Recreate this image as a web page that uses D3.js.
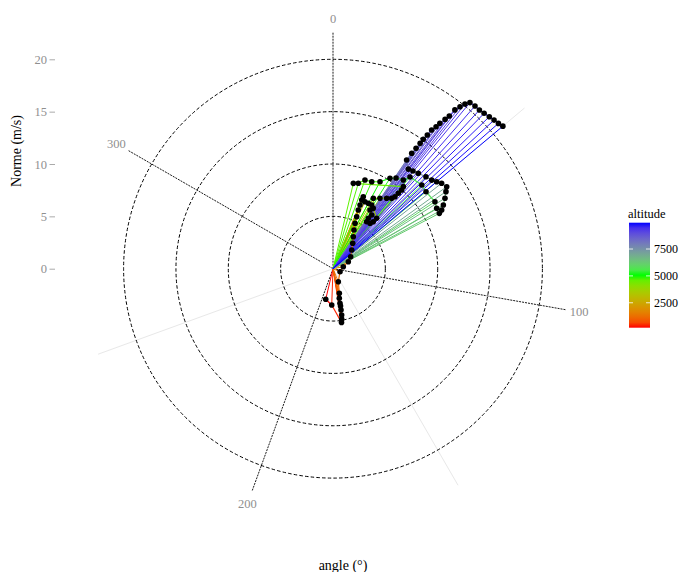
<!DOCTYPE html>
<html>
<head>
<meta charset="utf-8">
<script src="https://cdn.jsdelivr.net/npm/d3@7"></script>
<style>
  body { margin: 0; background: #fff; }
  svg { display: block; }
  text { font-family: "Liberation Serif", "DejaVu Serif", serif; }
</style>
</head>
<body>
<svg id="chart" width="683" height="572"></svg>
<script>
// ---- data ----
const angle = [193.4, 182.0,
  171.0, 170.2, 169.4, 169.0, 168.6, 168.6, 168.0, 165.6, 157.8,
  113.2, 79.0, 65.4, 55.9, 45.0, 37.8, 32.4, 28.5, 25.9, 24.5, 23.3, 23.0, 22.7, 22.8,
  25.5, 28.4, 31.3, 32.2, 35.8, 35.0, 35.6, 39.2, 40.6, 40.9, 33.7,
  29.8, 33.7, 37.3, 39.8, 40.7, 40.9, 41.1, 40.6,
  13.4, 16.5, 19.8, 24.0, 28.4, 32.2, 34.8, 38.4, 40.0,
  46.7, 50.4, 56.7, 59.8, 62.5, 61.6, 60.0, 57.8, 55.7, 54.2,
  51.8, 50.0, 48.1, 45.3, 41.8, 39.3, 37.1,
  34.1, 34.3, 34.6, 34.8, 34.9, 35.2, 35.4, 36.0, 36.3, 36.9, 37.3, 37.5, 38.1, 38.7, 39.5,
  41.1, 42.7, 44.2, 45.8, 47.3, 48.7, 50.0];
const norme = [3.0, 3.47,
  5.2, 4.88, 4.5, 4.02, 3.63, 3.37, 2.89, 2.43, 1.34,
  0.73, 1.0, 1.61, 2.04, 2.53, 3.07, 3.62, 4.2, 4.82, 5.46, 6.1, 6.61, 7.11, 7.46,
  7.09, 7.10, 7.12, 6.63, 6.32, 5.88, 5.52, 5.6, 5.91, 6.37, 6.93,
  7.75, 8.08, 8.46, 8.75, 9.07, 9.53, 9.98, 10.32,
  8.38, 8.51, 9.01, 9.09, 9.44, 10.21, 10.55, 10.81, 11.44,
  11.65, 11.53, 11.65, 11.46, 11.45, 11.8, 12.17, 12.64, 13.06, 13.39,
  13.2, 12.93, 12.67, 12.49, 12.22, 12.06, 11.93,
  12.54, 13.34, 13.97, 14.58, 15.07, 15.63, 16.26, 16.75, 17.24, 17.83, 18.33, 19.12, 19.66, 20.16, 20.56,
  20.63, 20.62, 20.7, 20.82, 20.93, 21.03, 21.18];
const altitude = [180, 300,
  450, 550, 650, 750, 850, 950, 1050, 1150, 1250,
  1350, 1450, 1550, 1650, 1750, 1850, 1950, 2050, 2150, 2250, 2350, 2450, 2550, 2650,
  2750, 2850, 2950, 3050, 3150, 3250, 3350, 3450, 3550, 3650, 3750,
  3850, 3950, 4050, 4150, 4250, 4350, 4450, 4550,
  4650, 4750, 4850, 4950, 5050, 5150, 5250, 5350, 5450,
  5600, 5750, 5900, 6050, 6200, 6350, 6500, 6650, 6800, 6950,
  7100, 7250, 7400, 7550, 7700, 7800, 7900,
  8000, 8100, 8200, 8300, 8400, 8500, 8600, 8700, 8800, 8900, 9000, 9100, 9200, 9300, 9400,
  9500, 9600, 9700, 9750, 9800, 9880, 9950];

const rBreaks = [0, 5, 10, 15, 20];
const thetaBreaks = [0, 100, 200, 300];
const thetaMinor = [50, 150, 250];
const legendBreaks = [2500, 5000, 7500];
const altColours = ["#ff0000", "#00ff00", "#0000ff"];

// ---- layout ----
const svg = d3.select("#chart");
const cx = 333, cy = 268.7;
const r = d3.scaleLinear().domain([0, 20]).range([0, 209.4]);
const theta = d3.scaleLinear().domain([0, 360]).range([0, 2 * Math.PI]);
const altMin = d3.min(altitude), altMax = d3.max(altitude);
const colour = d3.scaleLinear()
  .domain([altMin, (altMin + altMax) / 2, altMax])
  .range(altColours)
  .interpolate(d3.interpolateLab);

const px = (a, n) => cx + r(n) * Math.sin(theta(a));
const py = (a, n) => cy - r(n) * Math.cos(theta(a));

const data = angle.map((a, i) => ({ a, n: norme[i], alt: altitude[i] }));

// ---- grid ----
const g = svg.append("g");
g.selectAll("line.minor").data(thetaMinor).join("line")
  .attr("x1", cx).attr("y1", cy)
  .attr("x2", d => cx + 250 * Math.sin(theta(d)))
  .attr("y2", d => cy - 250 * Math.cos(theta(d)))
  .attr("stroke", "#e8e8e8").attr("stroke-width", 1);

g.selectAll("circle.grid").data(rBreaks.filter(d => d > 0)).join("circle")
  .attr("cx", cx).attr("cy", cy).attr("r", d => r(d))
  .attr("fill", "none").attr("stroke", "#000").attr("stroke-width", 1)
  .attr("stroke-dasharray", "3.5,2.2");

g.selectAll("line.major").data(thetaBreaks).join("line")
  .attr("x1", cx).attr("y1", cy)
  .attr("x2", d => cx + 236 * Math.sin(theta(d)))
  .attr("y2", d => cy - 236 * Math.cos(theta(d)))
  .attr("stroke", "#000").attr("stroke-width", 0.9)
  .attr("stroke-dasharray", "2,1");

g.selectAll("text.theta").data(thetaBreaks).join("text")
  .attr("x", d => cx + 250 * Math.sin(theta(d)))
  .attr("y", d => cy - 250 * Math.cos(theta(d)))
  .attr("text-anchor", "middle").attr("dominant-baseline", "central")
  .attr("fill", "#8f8f8f").attr("font-size", 12.5)
  .text(d => d);

// ---- segments from origin ----
svg.append("g").selectAll("line").data(data).join("line")
  .attr("x1", cx).attr("y1", cy)
  .attr("x2", d => px(d.a, d.n)).attr("y2", d => py(d.a, d.n))
  .attr("stroke", d => colour(d.alt)).attr("stroke-width", 1);

// ---- path between consecutive points ----
svg.append("g").selectAll("line").data(data.slice(0, -1)).join("line")
  .attr("x1", d => px(d.a, d.n)).attr("y1", d => py(d.a, d.n))
  .attr("x2", (d, i) => px(data[i + 1].a, data[i + 1].n))
  .attr("y2", (d, i) => py(data[i + 1].a, data[i + 1].n))
  .attr("stroke", d => colour(d.alt)).attr("stroke-width", 1.2);

// ---- points ----
svg.append("g").selectAll("circle").data(data).join("circle")
  .attr("cx", d => px(d.a, d.n)).attr("cy", d => py(d.a, d.n))
  .attr("r", 2.8).attr("fill", "#000");

// ---- y axis ----
const yAxisScale = d3.scaleLinear().domain([0, 20]).range([cy, cy - r(20)]);
const yAxis = svg.append("g").attr("transform", "translate(55,0)")
  .call(d3.axisLeft(yAxisScale).tickValues(rBreaks).tickSize(5.5).tickPadding(2.5));
yAxis.select(".domain").remove();
yAxis.selectAll(".tick line").attr("stroke", "#aaaaaa");
yAxis.selectAll(".tick text").attr("fill", "#8f8f8f").attr("font-size", 12.5)
  .attr("font-family", "Liberation Serif, DejaVu Serif, serif");

svg.append("text").attr("transform", "translate(21,151) rotate(-90)")
  .attr("text-anchor", "middle").attr("font-size", 14).attr("fill", "#000")
  .text("Norme (m/s)");
svg.append("text").attr("x", 343).attr("y", 570)
  .attr("text-anchor", "middle").attr("font-size", 14).attr("fill", "#000")
  .text("angle (°)");

// ---- legend ----
const lg = svg.append("g");
const barX = 629, barW = 21, barTop = 222.7, barBot = 327.7;
const lscale = d3.scaleLinear().domain([altMin, altMax]).range([barBot, barTop]);
const defs = svg.append("defs");
const grad = defs.append("linearGradient").attr("id", "altgrad")
  .attr("x1", 0).attr("y1", 1).attr("x2", 0).attr("y2", 0);
d3.range(0, 1.0001, 0.05).forEach(t => {
  grad.append("stop").attr("offset", t)
    .attr("stop-color", colour(altMin + t * (altMax - altMin)));
});
lg.append("rect").attr("x", barX).attr("y", barTop).attr("width", barW)
  .attr("height", barBot - barTop).attr("fill", "url(#altgrad)");
legendBreaks.forEach(b => {
  const y = lscale(b);
  lg.append("line").attr("x1", barX).attr("x2", barX + 4).attr("y1", y).attr("y2", y)
    .attr("stroke", "#fff").attr("stroke-opacity", 0.8).attr("stroke-width", 1);
  lg.append("line").attr("x1", barX + barW - 4).attr("x2", barX + barW).attr("y1", y).attr("y2", y)
    .attr("stroke", "#fff").attr("stroke-opacity", 0.8).attr("stroke-width", 1);
  lg.append("text").attr("x", barX + barW + 4).attr("y", y)
    .attr("dominant-baseline", "central").attr("font-size", 12)
    .attr("fill", "#000").text(b);
});
lg.append("text").attr("x", barX - 1).attr("y", 218).attr("font-size", 12.5)
  .attr("fill", "#000").text("altitude");
</script>
</body>
</html>
